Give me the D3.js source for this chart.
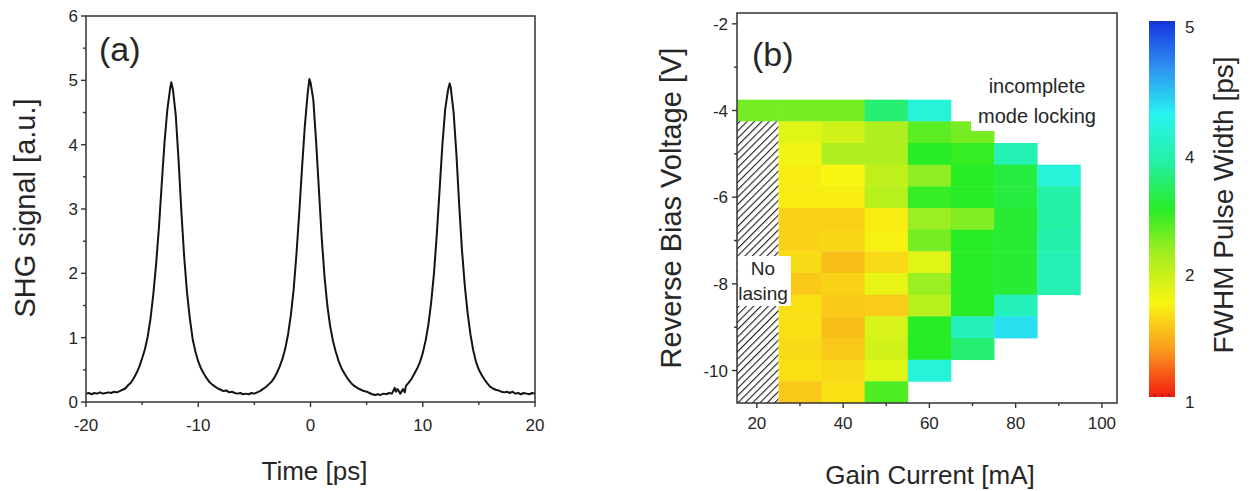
<!DOCTYPE html>
<html>
<head>
<meta charset="utf-8">
<script src="https://cdn.jsdelivr.net/npm/d3@7"></script>
<style>
  html, body { margin: 0; padding: 0; background: #fff; }
  svg { display: block; }
  text { font-family: "Liberation Sans", Arial, sans-serif; fill: #262626; }
</style>
</head>
<body>
<svg id="chart" width="1254" height="491"></svg>
<script>
// ---------------- Panel (a) data: SHG autocorrelation trace ----------------
const timePs = [
  -20, -19.75, -19.5, -19.25, -19, -18.75, -18.5, -18.25, -18, -17.75, -17.5, -17.25, -17, -16.75, -16.5, -16.25,
  -16, -15.75, -15.5, -15.25, -15, -14.75, -14.5, -14.25, -14, -13.75, -13.5, -13.25, -13, -12.75, -12.5, -12.4,
  -12.25, -12, -11.75, -11.5, -11.25, -11, -10.75, -10.5, -10.25, -10, -9.75, -9.5, -9.25, -9, -8.75, -8.5,
  -8.25, -8, -7.75, -7.5, -7.25, -7, -6.75, -6.5, -6.25, -6, -5.75, -5.5, -5.25, -5, -4.75, -4.5, -4.25, -4,
  -3.75, -3.5, -3.25, -3, -2.75, -2.5, -2.25, -2, -1.75, -1.5, -1.25, -1, -0.75, -0.5, -0.25, -0.1, 0, 0.25,
  0.5, 0.75, 1, 1.25, 1.5, 1.75, 2, 2.25, 2.5, 2.75, 3, 3.25, 3.5, 3.75, 4, 4.25, 4.5, 4.75, 5, 5.25, 5.5, 5.75,
  6, 6.25, 6.5, 6.75, 7, 7.25, 7.5, 7.6, 7.75, 8, 8.25, 8.4, 8.5, 8.75, 9, 9.25, 9.5, 9.75, 10, 10.25, 10.5,
  10.75, 11, 11.25, 11.5, 11.75, 12, 12.25, 12.4, 12.5, 12.75, 13, 13.25, 13.5, 13.75, 14, 14.25, 14.5, 14.75,
  15, 15.25, 15.5, 15.75, 16, 16.25, 16.5, 16.75, 17, 17.25, 17.5, 17.75, 18, 18.25, 18.5, 18.75, 19, 19.25,
  19.5, 19.75, 20
];
const shgSignal = [
  0.13, 0.14, 0.12, 0.14, 0.13, 0.15, 0.13, 0.14, 0.15, 0.14, 0.16, 0.15, 0.17, 0.19, 0.21, 0.26,
  0.30, 0.37, 0.45, 0.55, 0.68, 0.82, 1.02, 1.30, 1.68, 2.15, 2.72, 3.40, 4.05, 4.55, 4.88, 4.97,
  4.85, 4.45, 3.75, 2.95, 2.25, 1.70, 1.30, 0.98, 0.78, 0.63, 0.52, 0.44, 0.37, 0.31, 0.27, 0.24,
  0.21, 0.19, 0.17, 0.18, 0.15, 0.16, 0.14, 0.13, 0.14, 0.12, 0.13, 0.12, 0.14, 0.13, 0.15, 0.17, 0.20, 0.23,
  0.27, 0.31, 0.37, 0.45, 0.55, 0.67, 0.83, 1.05, 1.35, 1.75, 2.30, 2.95, 3.65, 4.30, 4.80, 5.02, 4.97, 4.70,
  4.05, 3.30, 2.55, 1.95, 1.50, 1.18, 0.95, 0.78, 0.64, 0.53, 0.45, 0.38, 0.32, 0.27, 0.24, 0.21, 0.19, 0.17, 0.16, 0.14, 0.12, 0.11,
  0.12, 0.11, 0.13, 0.12, 0.14, 0.13, 0.22, 0.16, 0.20, 0.13, 0.20, 0.15, 0.25, 0.30, 0.36, 0.44, 0.52, 0.62, 0.76, 0.95, 1.20,
  1.55, 2.00, 2.60, 3.30, 4.00, 4.55, 4.85, 4.95, 4.88, 4.50, 3.85, 3.05, 2.35, 1.80, 1.38, 1.05, 0.80, 0.62,
  0.50, 0.42, 0.35, 0.29, 0.24, 0.21, 0.19, 0.18, 0.16, 0.15, 0.16, 0.14, 0.16, 0.13, 0.14, 0.12, 0.14, 0.13,
  0.12, 0.14, 0.13
];
const timeTicks = [-20, -10, 0, 10, 20];
const signalTicks = [0, 1, 2, 3, 4, 5, 6];

// ---------------- Panel (b) data: FWHM pulse width map ----------------
const gainCurrent = [20, 30, 40, 50, 60, 70, 80, 90];           // mA (cell centres)
const biasVoltage = [-4, -4.5, -5, -5.5, -6, -6.5, -7, -7.5, -8, -8.5, -9, -9.5, -10, -10.5]; // V
const pulseWidth = [   // ps, rows = biasVoltage, cols = gainCurrent; null = no data
  [2.70, 2.70, 2.70, 3.30, 3.85, null, null, null],
  [null, 2.15, 2.25, 2.45, 2.80, 2.70, null, null],
  [null, 2.05, 2.45, 2.45, 3.00, 2.95, 3.60, null],
  [null, 1.95, 2.00, 2.35, 2.60, 3.00, 3.10, 3.85],
  [null, 1.95, 1.95, 2.40, 2.95, 3.00, 3.10, 3.50],
  [null, 1.80, 1.80, 1.95, 2.55, 2.65, 3.05, 3.50],
  [null, 1.80, 1.83, 1.97, 2.70, 3.00, 3.05, 3.55],
  [null, 1.85, 1.70, 1.85, 2.15, 3.00, 3.05, 3.60],
  [null, 1.75, 1.80, 2.10, 2.55, 3.00, 3.05, 3.60],
  [null, 1.88, 1.75, 1.77, 2.40, 3.00, 3.65, null],
  [null, 1.88, 1.70, 2.20, 3.00, 3.65, 4.10, null],
  [null, 1.85, 1.75, 2.25, 3.00, 3.30, null, null],
  [null, 1.88, 1.85, 2.15, 3.85, null, null, null],
  [null, 1.75, 1.88, 2.85, null, null, null, null]
];
const currentTicks = [20, 40, 60, 80, 100];
const voltageTicks = [-2, -4, -6, -8, -10];
const colorbarTicks = [1, 2, 4, 5];
const colorStops = [1, 1.5, 2, 2.5, 3, 3.5, 4, 4.5, 5];
const colorValues = ["#f41a10", "#fa9a1e", "#f8f612", "#a8ee20", "#28ec26", "#24f0a6", "#28f4f0", "#2e92f2", "#1434e2"];

// ---------------- drawing ----------------
const svg = d3.select("#chart");
const FONT_TICK = 17;
const axisColor = "#333";

function drawTicks(g, scale, values, orient, len, fixed) {
  values.forEach(v => {
    const p = scale(v);
    if (orient === "bottom") g.append("line").attr("x1", p).attr("x2", p).attr("y1", fixed).attr("y2", fixed + len);
    else g.append("line").attr("y1", p).attr("y2", p).attr("x1", fixed).attr("x2", fixed - len);
  });
  g.attr("stroke", axisColor).attr("stroke-width", 1.4);
}

// ===== Panel (a) =====
const xA = d3.scaleLinear().domain([-20, 20]).range([86, 535]);
const yA = d3.scaleLinear().domain([0, 6]).range([402, 16]);
const gA = svg.append("g");

gA.append("path")
  .datum(timePs.map((t, i) => [t, shgSignal[i]]))
  .attr("fill", "none").attr("stroke", "#141414").attr("stroke-width", 2)
  .attr("stroke-linejoin", "round")
  .attr("d", d3.line().x(d => xA(d[0])).y(d => yA(d[1])));

gA.append("rect").attr("x", xA(-20)).attr("y", yA(6)).attr("width", xA(20) - xA(-20)).attr("height", yA(0) - yA(6))
  .attr("fill", "none").attr("stroke", axisColor).attr("stroke-width", 1.5);
drawTicks(gA.append("g"), xA, timeTicks, "bottom", 5, yA(0));
drawTicks(gA.append("g"), xA, [-15, -5, 5, 15], "bottom", 3, yA(0));
drawTicks(gA.append("g"), yA, signalTicks, "left", 5, xA(-20));
drawTicks(gA.append("g"), yA, d3.range(0.5, 6, 1), "left", 3, xA(-20));

gA.selectAll(".xl").data(timeTicks).join("text")
  .attr("x", d => xA(d)).attr("y", 431).attr("text-anchor", "middle").attr("font-size", FONT_TICK).text(d => d);
gA.selectAll(".yl").data(signalTicks).join("text")
  .attr("x", 78).attr("y", d => yA(d) + 6).attr("text-anchor", "end").attr("font-size", FONT_TICK).text(d => d);
gA.append("text").attr("x", (xA(-20) + xA(20)) / 2 + 4).attr("y", 480).attr("text-anchor", "middle")
  .attr("font-size", 26).text("Time [ps]");
gA.append("text").attr("transform", "translate(35,208) rotate(-90)").attr("text-anchor", "middle")
  .attr("font-size", 29).text("SHG signal [a.u.]");
gA.append("text").attr("x", 99).attr("y", 61).attr("font-size", 34).text("(a)");

// ===== Panel (b) =====
const xB = d3.scaleLinear().domain([15.4, 103.5]).range([737, 1117]);
const yB = d3.scaleLinear().domain([-10.75, -1.75]).range([403, 13]);
const colorScale = d3.scaleLinear().domain(colorStops).range(colorValues).clamp(true);
const gB = svg.append("g");

const defs = svg.append("defs");
defs.append("clipPath").attr("id", "clipB").append("rect")
  .attr("x", xB(15.4)).attr("y", yB(-1.75)).attr("width", xB(103.5) - xB(15.4)).attr("height", yB(-10.75) - yB(-1.75));
const pat = defs.append("pattern").attr("id", "hatch").attr("patternUnits", "userSpaceOnUse")
  .attr("width", 5.2).attr("height", 5.2).attr("patternTransform", "rotate(45)");
pat.append("rect").attr("width", 5.2).attr("height", 5.2).attr("fill", "#fff");
pat.append("line").attr("x1", 0).attr("y1", 0).attr("x2", 0).attr("y2", 5.2)
  .attr("stroke", "#1e1e1e").attr("stroke-width", 2.2);

const cells = [];
biasVoltage.forEach((v, r) => gainCurrent.forEach((c, k) => {
  const w = pulseWidth[r][k];
  if (w !== null) cells.push({ c, v, w });
}));
const heat = gB.append("g").attr("clip-path", "url(#clipB)");
heat.selectAll("rect.cell").data(cells).join("rect")
  .attr("x", d => xB(d.c - 5)).attr("width", d => xB(d.c + 5) - xB(d.c - 5) + 0.4)
  .attr("y", d => yB(d.v + 0.25)).attr("height", d => yB(d.v - 0.25) - yB(d.v + 0.25) + 0.4)
  .attr("fill", d => colorScale(d.w));

heat.append("rect").attr("x", xB(15)).attr("width", xB(25) - xB(15))
  .attr("y", yB(-4.25)).attr("height", yB(-10.75) - yB(-4.25)).attr("fill", "url(#hatch)");

function boxedLabel(g, lines, cx, baselines, size, pad, clip) {
  const bg = g.append("rect").attr("fill", "#fff");
  const t = g.append("g");
  lines.forEach((s, i) => t.append("text").attr("x", cx).attr("y", baselines[i]).attr("text-anchor", "middle")
    .attr("font-size", size).text(s));
  const bb = t.node().getBBox();
  let x0 = bb.x - pad[0], x1 = bb.x + bb.width + pad[0];
  if (clip) x0 = Math.max(x0, clip);
  bg.attr("x", x0).attr("y", bb.y - pad[1]).attr("width", x1 - x0).attr("height", bb.height + 2 * pad[1]);
}
boxedLabel(gB.append("g"), ["No", "lasing"], 763, [275, 300], 19, [3, 2], xB(15.4) + 0.8);
boxedLabel(gB.append("g"), ["incomplete", "mode locking"], 1037, [93, 123], 20, [7, 4], null);

gB.append("rect").attr("x", xB(15.4)).attr("y", yB(-1.75)).attr("width", xB(103.5) - xB(15.4))
  .attr("height", yB(-10.75) - yB(-1.75)).attr("fill", "none").attr("stroke", axisColor).attr("stroke-width", 1.5);
drawTicks(gB.append("g"), xB, currentTicks, "bottom", 5, yB(-10.75));
drawTicks(gB.append("g"), xB, [30, 50, 70, 90], "bottom", 3, yB(-10.75));
drawTicks(gB.append("g"), yB, voltageTicks, "left", 5, xB(15.4));
drawTicks(gB.append("g"), yB, [-3, -5, -7, -9], "left", 3, xB(15.4));

gB.selectAll(".xl").data(currentTicks).join("text")
  .attr("x", d => xB(d)).attr("y", 429).attr("text-anchor", "middle").attr("font-size", FONT_TICK).text(d => d);
gB.selectAll(".yl").data(voltageTicks).join("text")
  .attr("x", 728).attr("y", d => yB(d) + 6).attr("text-anchor", "end").attr("font-size", FONT_TICK).text(d => d);
gB.append("text").attr("x", 930).attr("y", 484).attr("text-anchor", "middle").attr("font-size", 26).text("Gain Current [mA]");
gB.append("text").attr("transform", "translate(681,208) rotate(-90)").attr("text-anchor", "middle")
  .attr("font-size", 29).text("Reverse Bias Voltage [V]");
gB.append("text").attr("x", 752).attr("y", 66).attr("font-size", 34).text("(b)");

// ===== colour bar =====
const cbTop = 21, cbBottom = 397, cbX = 1149, cbW = 26;
const grad = defs.append("linearGradient").attr("id", "cbgrad").attr("x1", 0).attr("x2", 0).attr("y1", 1).attr("y2", 0);
colorStops.forEach((s, i) => grad.append("stop").attr("offset", (s - 1) / 4).attr("stop-color", colorValues[i]));
const gC = svg.append("g");
gC.append("rect").attr("x", cbX).attr("y", cbTop).attr("width", cbW).attr("height", cbBottom - cbTop).attr("fill", "url(#cbgrad)");
[cbTop, cbBottom].forEach(y => [cbX + 6, cbX + 13, cbX + 20].forEach(x => {
  gC.append("line").attr("x1", x).attr("x2", x).attr("y1", y === cbTop ? y : y - 3).attr("y2", y === cbTop ? y + 3 : y)
    .attr("stroke", "#333").attr("stroke-width", 1);
}));
const cbLabelScale = d3.scaleLinear().domain(colorbarTicks).range([402, 275, 157, 27]);
gC.selectAll("text.cb").data(colorbarTicks).join("text")
  .attr("x", 1185).attr("y", d => cbLabelScale(d) + 6).attr("font-size", FONT_TICK).text(d => d);
gC.append("text").attr("transform", "translate(1233,205) rotate(-90)").attr("text-anchor", "middle")
  .attr("font-size", 28).text("FWHM Pulse Width [ps]");
</script>
</body>
</html>
